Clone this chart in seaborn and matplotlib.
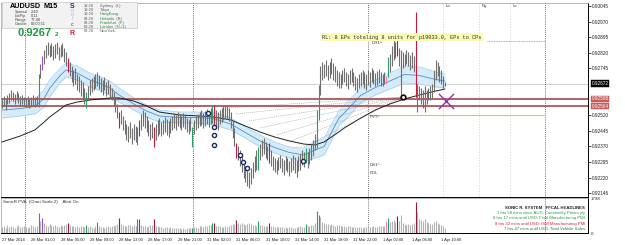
import matplotlib
matplotlib.use("Agg")
import matplotlib.pyplot as plt
import seaborn as sns
import numpy as np
import pandas as pd
from matplotlib.patches import Rectangle

# ---------------- data (prices in 1e-5 units) ----------------
high_pts = [
    92603, 92612, 92598, 92617, 92627, 92641, 92632, 92622, 92636, 92627,
    92612, 92617, 92608, 92603, 92612, 92598, 92608, 92617, 92608, 92612,
    92718, 92766, 92805, 92834, 92858, 92872, 92858, 92867, 92853, 92862,
    92872, 92848, 92858, 92867, 92843, 92824, 92795, 92776, 92757, 92737,
    92747, 92718, 92708, 92689, 92680, 92651, 92632, 92660, 92689, 92699,
    92708, 92718, 92728, 92713, 92699, 92689, 92704, 92680, 92689, 92670,
    92651, 92632, 92603, 92574, 92535, 92545, 92516, 92497, 92478, 92468,
    92487, 92458, 92478, 92468, 92463, 92497, 92526, 92545, 92535, 92516,
    92497, 92478, 92487, 92463, 92478, 92497, 92506, 92487, 92497, 92511,
    92502, 92492, 92506, 92516, 92531, 92521, 92535, 92526, 92516, 92531,
    92521, 92506, 92497, 92511, 92463, 92497, 92516, 92526, 92535, 92545,
    92531, 92540, 92550, 92535, 92555, 92564, 92569, 92545, 92535, 92545,
    92555, 92564, 92569, 92564, 92555, 92535, 92497, 92458, 92386, 92372,
    92353, 92324, 92295, 92276, 92256, 92247, 92266, 92295, 92324, 92353,
    92367, 92381, 92401, 92410, 92391, 92372, 92386, 92353, 92324, 92314,
    92304, 92319, 92328, 92314, 92304, 92324, 92314, 92300, 92314, 92328,
    92319, 92304, 92324, 92333, 92353, 92343, 92362, 92343, 92362, 92381,
    92401, 92429, 92545, 92665, 92757, 92776, 92766, 92785, 92761, 92776,
    92795, 92771, 92757, 92737, 92728, 92718, 92737, 92747, 92728, 92718,
    92737, 92747, 92728, 92708, 92699, 92718, 92728, 92737, 92728, 92718,
    92737, 92728, 92747, 92737, 92723, 92733, 92742, 92728, 92718, 92728,
    92708, 92800, 92814, 92853, 92882, 92872, 92882, 92843, 92834, 92824,
    92814, 92834, 92824, 92809, 92824, 92805, 93016, 92670, 92660, 92651,
    92641, 92660, 92641, 92651, 92660, 92670, 92737, 92785, 92776, 92757,
    92737, 92708, 92680,
]
low_pts = [
    92555, 92564, 92545, 92574, 92579, 92593, 92588, 92574, 92593, 92579,
    92569, 92574, 92564, 92559, 92569, 92555, 92564, 92569, 92559, 92564,
    92559, 92699, 92737, 92766, 92795, 92809, 92800, 92805, 92785, 92795,
    92814, 92785, 92800, 92805, 92776, 92757, 92728, 92708, 92680, 92660,
    92670, 92641, 92632, 92612, 92603, 92574, 92555, 92593, 92617, 92632,
    92641, 92651, 92660, 92646, 92632, 92617, 92641, 92612, 92622, 92603,
    92593, 92564, 92535, 92506, 92458, 92478, 92449, 92429, 92401, 92391,
    92410, 92381, 92401, 92391, 92377, 92420, 92449, 92468, 92458, 92439,
    92420, 92401, 92410, 92367, 92401, 92420, 92429, 92420, 92429, 92439,
    92425, 92415, 92434, 92449, 92458, 92449, 92468, 92458, 92449, 92463,
    92454, 92439, 92429, 92444, 92367, 92429, 92449, 92458, 92468, 92473,
    92458, 92468, 92478, 92463, 92478, 92482, 92473, 92458, 92449, 92478,
    92487, 92497, 92506, 92502, 92492, 92458, 92410, 92372, 92314, 92304,
    92276, 92247, 92218, 92199, 92179, 92170, 92189, 92218, 92247, 92256,
    92256, 92304, 92324, 92333, 92314, 92304, 92290, 92276, 92256, 92247,
    92237, 92256, 92266, 92247, 92232, 92256, 92247, 92227, 92247, 92256,
    92242, 92223, 92251, 92256, 92280, 92271, 92290, 92266, 92285, 92304,
    92324, 92353, 92362, 92497, 92617, 92689, 92699, 92708, 92689, 92699,
    92718, 92689, 92680, 92660, 92651, 92651, 92670, 92680, 92660, 92646,
    92670, 92680, 92660, 92641, 92632, 92651, 92660, 92670, 92651, 92641,
    92665, 92656, 92680, 92670, 92660, 92665, 92675, 92660, 92660, 92670,
    92670, 92704, 92728, 92757, 92785, 92795, 92805, 92757, 92608, 92747,
    92757, 92766, 92757, 92737, 92747, 92728, 92608, 92535, 92593, 92574,
    92555, 92535, 92574, 92593, 92593, 92603, 92632, 92689, 92708, 92680,
    92670, 92651, 92660,
]
volume = [
    300, 350, 280, 400, 330, 380, 300, 260, 350, 420, 310, 290, 360, 330, 280, 300, 390, 340, 310, 360,
    1050, 600, 750, 500, 420, 380, 450, 400, 350, 420, 380, 330, 400, 360, 420, 450, 520, 400, 380, 350,
    330, 360, 300, 340, 380, 320, 400, 300, 350, 320, 280, 340, 560, 350, 300, 330, 280, 320, 360, 300,
    340, 380, 420, 450, 770, 450, 400, 380, 350, 420, 390, 360, 410, 380, 720, 700, 400, 350, 380, 330,
    360, 400, 420, 740, 380, 350, 320, 300, 280, 310, 290, 260, 300, 280, 250, 270, 240, 260, 230, 250,
    220, 240, 260, 280, 250, 300, 320, 280, 340, 360, 330, 380, 350, 400, 420, 500, 520, 380, 360, 340,
    320, 300, 350, 330, 360, 400, 450, 480, 650, 500, 480, 520, 450, 430, 470, 500, 460, 420, 400, 380,
    600, 420, 400, 380, 360, 380, 520, 380, 350, 330, 300, 320, 290, 310, 280, 300, 270, 290, 300, 280,
    260, 300, 320, 340, 300, 330, 450, 350, 380, 400, 420, 500, 1150, 950, 800, 550, 500, 480, 450, 420,
    460, 400, 380, 420, 390, 360, 380, 350, 330, 360, 340, 310, 330, 300, 320, 290, 310, 280, 300, 320,
    340, 300, 330, 350, 320, 300, 340, 360, 380, 350, 600, 750, 550, 600, 650, 550, 850, 600, 900, 500,
    450, 420, 480, 400, 450, 500, 1600, 1100, 700, 650, 600, 700, 550, 500, 480, 450, 550, 600, 500, 450,
    400, 350, 250,
]
pva_green = [20, 46, 52, 104, 115, 140, 166, 172, 173, 211]
pva_red = [36, 64, 83, 116, 128, 146, 216, 226]
pva_violet = [22, 74]
pva_blue = [75]
pink_bars = [210]

# moving averages read at sample bars
ma_bar = [0, 10, 18, 23, 26, 32, 35, 41, 48, 54, 59, 64, 72, 79, 86, 97, 108, 116, 125, 133,
          141, 149, 157, 165, 171, 176, 184, 187, 196, 204, 212, 220, 228, 237, 242]
band_hi_pts = [92583, 92588, 92598, 92641, 92689, 92747, 92771, 92757, 92723, 92704, 92684, 92651,
               92603, 92569, 92545, 92535, 92535, 92531, 92506, 92463, 92425, 92391, 92367, 92362,
               92391, 92410, 92540, 92569, 92651, 92689, 92723, 92757, 92752, 92728, 92718]
band_lo_pts = [92506, 92516, 92526, 92559, 92608, 92680, 92704, 92689, 92656, 92636, 92617, 92583,
               92545, 92511, 92487, 92482, 92482, 92473, 92449, 92410, 92367, 92338, 92314, 92295,
               92314, 92328, 92468, 92492, 92579, 92617, 92646, 92675, 92670, 92656, 92651]
slow_ma_pts = [92391, 92420, 92449, 92487, 92511, 92550, 92569, 92583, 92593, 92598, 92603, 92603,
               92588, 92564, 92535, 92521, 92516, 92511, 92497, 92468, 92439, 92415, 92396, 92381,
               92377, 92391, 92439, 92458, 92506, 92545, 92574, 92598, 92617, 92636, 92646]

sig_bar = [112.6, 115.8, 115.8, 115.8, 130, 131.7, 133.9, 164.5]
sig_pts = [92531, 92463, 92425, 92377, 92328, 92295, 92266, 92300]
pivot_bar = [219.1]
pivot_pts = [92608]

price_ticks = [0.93045, 0.92970, 0.92895, 0.92820, 0.92745, 0.92520, 0.92445, 0.92370,
               0.92295, 0.92220, 0.92146]
time_labels = ["27 Mar 2014", "28 Mar 01:00", "28 Mar 05:00", "28 Mar 09:00", "28 Mar 13:00",
               "28 Mar 17:00", "28 Mar 21:00", "31 Mar 02:00", "31 Mar 06:00", "31 Mar 10:00",
               "31 Mar 14:00", "31 Mar 18:00", "31 Mar 22:00", "1 Apr 02:00", "1 Apr 06:00",
               "1 Apr 10:00"]
bid_price = 0.92672
level_lines = [0.92598, 0.92564]
pvt_level = 0.92521
dr1_level = 0.92877

# ---------------- styling ----------------
sns.set_theme(style="white")
plt.rcParams['font.family'] = ['Liberation Sans', 'DejaVu Sans']

W, H = 625, 245
fig = plt.figure(figsize=(W / 100, H / 100), dpi=100)
fig.patch.set_facecolor("white")

def fx(px):
    return px / W

def fy(py):
    return 1 - py / H

BAR_DX = 1.83
x_left, x_right = 1, 588
xlim = ((x_left - 2) / BAR_DX, (x_right - 2) / BAR_DX)

ax = fig.add_axes([fx(x_left), fy(197), (x_right - x_left) / W, 194 / H])
axv = fig.add_axes([fx(x_left), fy(233), (x_right - x_left) / W, 35 / H])

df = pd.DataFrame({
    "bar": np.arange(len(high_pts)),
    "high": np.array(high_pts) / 1e5,
    "low": np.array(low_pts) / 1e5,
    "vol": volume,
})
kind = np.array(["norm"] * len(df), dtype=object)
for i in pva_green: kind[i] = "green"
for i in pva_red: kind[i] = "red"
for i in pva_violet: kind[i] = "violet"
for i in pva_blue: kind[i] = "blue"
for i in pink_bars: kind[i] = "pink"
df["kind"] = kind

candle_col = {"norm": "#6f6f6f", "green": "#2a9d62", "red": "#c8193c", "violet": "#9a4fd0",
              "blue": "#3a4fd6", "pink": "#ff7fbf"}
vol_col = {"norm": "#b4b4b4", "green": "#2a9d62", "red": "#8e1838", "violet": "#9a4fd0",
           "blue": "#3a4fd6", "pink": "#ff7fbf"}

ma = pd.DataFrame({
    "bar": ma_bar,
    "hi": np.array(band_hi_pts) / 1e5,
    "lo": np.array(band_lo_pts) / 1e5,
    "slow": np.array(slow_ma_pts) / 1e5,
})
ma["mid"] = (ma["hi"] + ma["lo"]) / 2

# ---------------- main price panel ----------------
ax.set_xlim(*xlim)
ax.set_ylim(0.921264, 0.930596)
ax.set_facecolor("white")

ax.fill_between(ma["bar"], ma["lo"], ma["hi"], color="#d6ebf8", lw=0, zorder=1)
sns.lineplot(data=ma, x="bar", y="hi", ax=ax, color="#a9d3f0", lw=0.6, zorder=2)
sns.lineplot(data=ma, x="bar", y="lo", ax=ax, color="#a9d3f0", lw=0.6, zorder=2)
sns.lineplot(data=ma, x="bar", y="mid", ax=ax, color="#4f8fc8", lw=0.6, zorder=2)
sns.lineplot(data=ma, x="bar", y="slow", ax=ax, color="#202020", lw=0.7, zorder=3)

ax.axhline(bid_price, color="#c9c9c9", lw=0.6, zorder=0.5)
for lv in level_lines:
    ax.axhline(lv, color="#a8484c", lw=1.2, zorder=2.5)
x_day1 = (368 - 2) / BAR_DX
x_day2 = (545 - 2) / BAR_DX
ax.plot([x_day1, x_day2], [pvt_level, pvt_level], color="#c8d44a", lw=0.8, zorder=2)
ax.plot([(487 - 2) / BAR_DX, x_day2], [dr1_level, dr1_level], color="#d07090",
        lw=0.6, ls=(0, (1, 1)), zorder=2)

for px in [25, 193, 368, 545]:
    for a in (ax, axv):
        a.axvline((px - 2) / BAR_DX, color="#404040", lw=0.6, ls=(0, (1, 1.5)), zorder=0.6)
for px, lab in [(443, "Lo"), (479, "Ny"), (510, "Lc")]:
    ax.axvline((px - 2) / BAR_DX, color="#d0d0d0", lw=0.5, ls=(0, (2, 2)), zorder=0.6)
    fig.text(fx(px + 3), fy(6), lab, fontsize=3.2, color="#404040", va="center")

ax.vlines(df["bar"], df["low"], df["high"], colors=[candle_col[k] for k in df["kind"]],
          lw=0.8, zorder=4)

fan_ends = [(123, 0.92555), (128, 0.92526), (135, 0.92492), (141, 0.92458), (150, 0.92425),
            (158, 0.92396), (165, 0.92367)]
for b, p in fan_ends:
    ax.plot([b, pivot_bar[0]], [p, pivot_pts[0] / 1e5], color="#a0a0a0", lw=0.4,
            ls=(0, (2, 1.5)), zorder=1.5)

ax.scatter(sig_bar, np.array(sig_pts) / 1e5, s=9, facecolor="white", edgecolor="#1a2a6a",
           linewidth=1.0, zorder=6)
ax.scatter(pivot_bar, np.array(pivot_pts) / 1e5, s=11, facecolor="white", edgecolor="black",
           linewidth=1.2, zorder=6)
ax.scatter([(446 - 2) / BAR_DX], [0.92588], s=120, marker="x", color="#9b2fa8",
           linewidth=1.0, zorder=6)

ax.yaxis.tick_right()
ax.set_yticks(price_ticks)
ax.set_yticklabels([f"{t:.5f}" for t in price_ticks], fontsize=3.4)
ax.tick_params(axis="y", length=2, width=0.5, pad=1, colors="black", labelcolor="#202020")
ax.set_xticks([])
ax.set_xlabel("")
ax.set_ylabel("")
for s in ["left", "top"]:
    ax.spines[s].set_color("#9a9a9a")
    ax.spines[s].set_linewidth(0.5)
for s in ["right", "bottom"]:
    ax.spines[s].set_color("black")
    ax.spines[s].set_linewidth(0.7)

def price_box(price, fc, tc):
    ax.annotate(f"{price:.5f}", xy=(1.0, price), xycoords=("axes fraction", "data"),
                xytext=(2.5, 0), textcoords="offset points", fontsize=3.4, color=tc,
                va="center", ha="left",
                bbox=dict(boxstyle="square,pad=0.15", fc=fc, ec=fc, lw=0.3))

price_box(bid_price, "black", "white")
for lv in level_lines:
    price_box(lv, "#c85a5a", "white")

for px, py, t in [(372, 43, "DR1^"), (370, 117, "PVT^"), (370, 165, "DS1^"), (370, 173, "PDL")]:
    fig.text(fx(px), fy(py), t, fontsize=3.2, color="#404040", va="center")

fig.text(fx(322), fy(37), "RL: 8 EPs totaling 8 units for p19033.0, EPs to CPs",
         fontsize=3.8, family="Liberation Mono", color="#303030", va="center",
         bbox=dict(boxstyle="square,pad=0.25", fc="#fbfbb4", ec="none"))

# ---------------- info box top-left ----------------
fig.patches.append(Rectangle((fx(2), fy(28)), 135 / W, 26 / H, transform=fig.transFigure,
                             fc="#f2f2f2", ec="#c8c8c8", lw=0.5, zorder=5))
fig.text(fx(10), fy(6), "AUDUSD", fontsize=5.2, weight="bold", color="black", va="center", zorder=6)
fig.text(fx(43), fy(6), "M15", fontsize=5.2, weight="bold", color="black", va="center", zorder=6)
for i, (k, v) in enumerate([("Spread", "2.40"), ("LotPip", "0.11"), ("Range", "77.40"),
                            ("Candle", "00:00:11")]):
    fig.text(fx(15), fy(12 + 4 * i), k, fontsize=2.9, color="#404040", va="center", zorder=6)
    fig.text(fx(31), fy(12 + 4 * i), v, fontsize=2.9, color="#404040", va="center", zorder=6)
fig.text(fx(17), fy(33), "0.9267", fontsize=8, weight="bold", color="#1e9a3c", va="center", zorder=6)
fig.text(fx(55), fy(35), "2", fontsize=4.5, weight="bold", color="#1e9a3c", va="center", zorder=6)
for ch, py, c in [("S", 6, "#1c2b8c"), ("o", 11, "#b8c8e8"), ("n", 15, "#b8c8e8"),
                  ("i", 19, "#b8c8e8"), ("c", 24, "#c84060"), ("R", 33, "#c81e3c")]:
    fig.text(fx(72), fy(py), ch, fontsize=5 if ch in "SR" else 3.5, weight="bold", color=c,
             ha="center", va="center", zorder=6)
clocks = [("18:28", "Sydney  (L)", "#606060"), ("19:28", "Tokyo", "#606060"),
          ("19:28", "HongKong", "#2a8a3a"), ("09:28", "Helsinki  (B)", "#2a8a3a"),
          ("09:28", "Frankfurt  (F)", "#2a8a3a"), ("08:28", "London  (G+1)", "#2a8a3a"),
          ("03:28", "NewYork", "#606060")]
for i, (t, n, c) in enumerate(clocks):
    fig.text(fx(84), fy(6 + 4.2 * i), t, fontsize=2.9, color="#606060", va="center", zorder=6)
    fig.text(fx(100), fy(6 + 4.2 * i), n, fontsize=2.9, color=c, va="center", zorder=6)

# ---------------- volume panel ----------------
axv.set_xlim(*xlim)
axv.set_ylim(0, 1798)
axv.vlines(df["bar"], 0, df["vol"], colors=[vol_col[k] for k in df["kind"]], lw=0.8, zorder=3)
axv.yaxis.tick_right()
axv.set_yticks([0, 1798])
axv.set_yticklabels(["0", "1798"], fontsize=3.2)
axv.tick_params(axis="y", length=0, pad=2)
tick_bars = [16 * k for k in range(len(time_labels))]
axv.set_xticks(tick_bars)
axv.set_xticklabels(time_labels, fontsize=2.9, ha="left")
axv.tick_params(axis="x", length=2, width=0.5, pad=1.5, colors="black", labelcolor="#202020")
axv.set_xlabel("")
axv.set_ylabel("")
for s in ["left", "top"]:
    axv.spines[s].set_color("#9a9a9a")
    axv.spines[s].set_linewidth(0.5)
for s in ["right", "bottom"]:
    axv.spines[s].set_color("black")
    axv.spines[s].set_linewidth(0.7)
fig.text(fx(3), fy(202), "SonicR PVA  (Chart Scale 2)    Alert On", fontsize=3.2,
         color="#303030", va="center")

heads = [("SONIC R. SYSTEM   FFCAL HEADLINES", "#202020", "bold"),
         ("1 hrs 58 mins since AUD: Commodity Prices y/y", "#2a9a3a", "normal"),
         ("8 hrs 17 mins until USD: Final Manufacturing PMI", "#2a9a3a", "normal"),
         ("8 hrs 32 mins until USD: ISM Manufacturing PMI", "#d02040", "normal"),
         ("7 hrs 47 mins until USD: Total Vehicle Sales", "#2a7a3a", "normal")]
for i, (t, c, w) in enumerate(heads):
    fig.text(fx(585), fy(208 + 5.2 * i), t, fontsize=3.1, color=c, weight=w, ha="right",
             va="center")

fig.savefig("out.png", dpi=100, facecolor="white")
